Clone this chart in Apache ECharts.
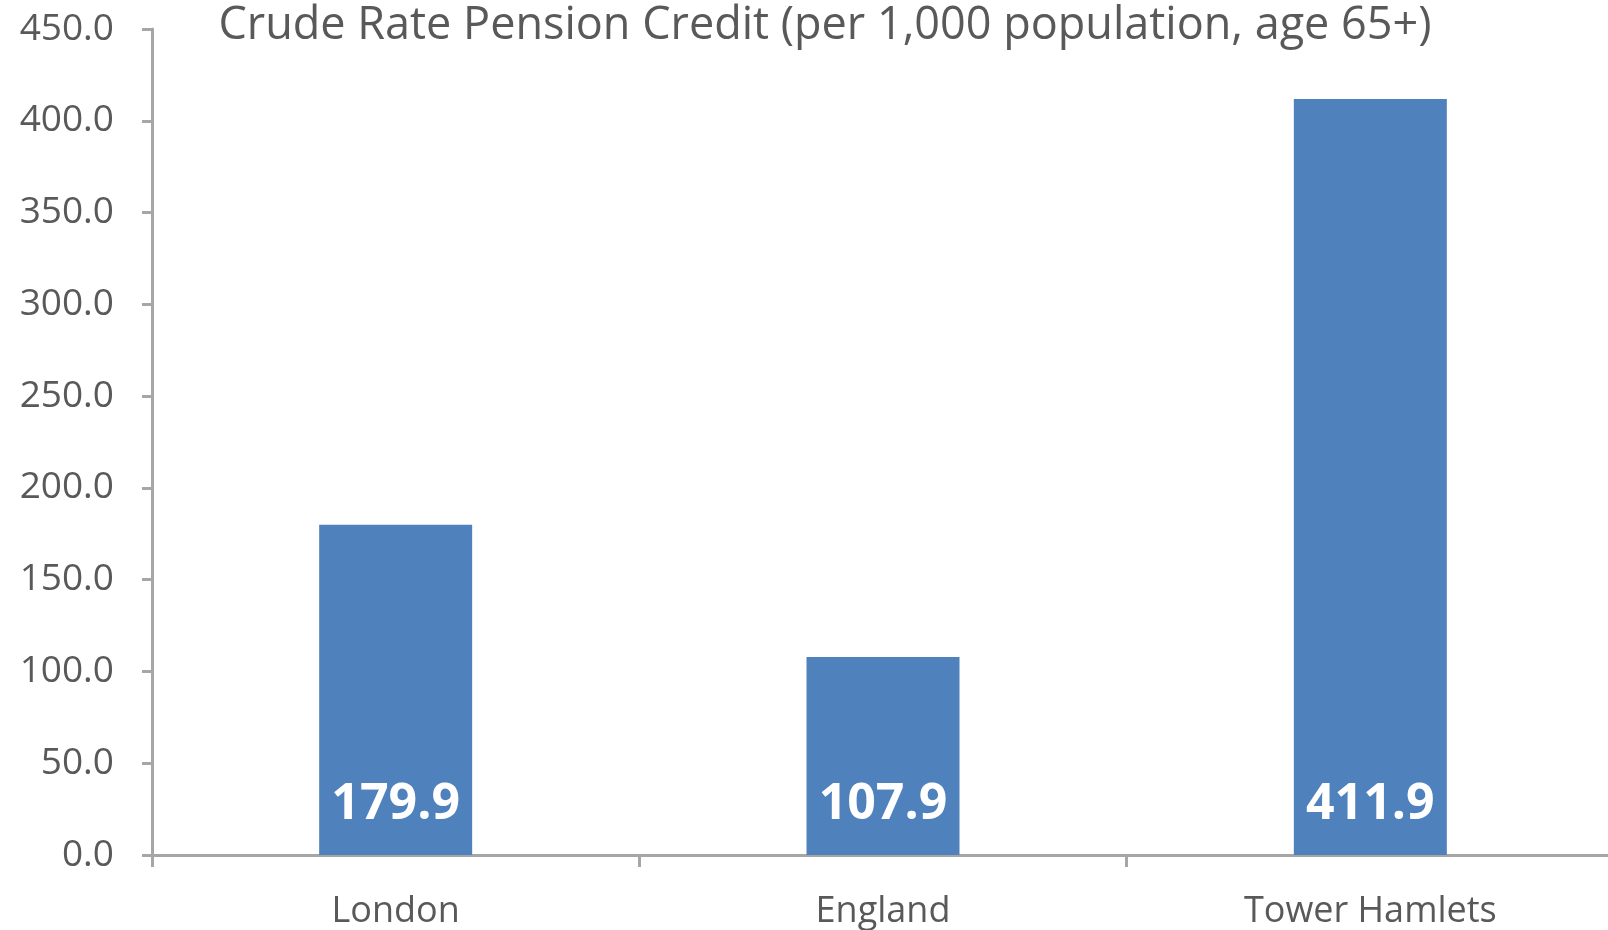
<!DOCTYPE html>
<html>
<head>
<meta charset="utf-8">
<script src="https://cdn.jsdelivr.net/npm/echarts@6/dist/echarts.min.js"></script>
<style>
  html, body { margin: 0; padding: 0; background: #fff; overflow: hidden; }
  #chart { width: 1620px; height: 930px; }
</style>
</head>
<body>
<div id="chart"></div>
<script>
const areas = ["London", "England", "Tower Hamlets"];
const rates = [179.9, 107.9, 411.9];
const yTicks = { min: 0, max: 450, step: 50 };

const chart = echarts.init(document.querySelector("#chart"));
const font = "Open Sans";

chart.setOption({
  animation: false,
  title: {
    text: "Crude Rate Pension Credit (per 1,000 population, age 65+)",
    left: 820,
    top: -1,
    textAlign: "center",
    textStyle: { fontFamily: font, fontSize: 45, fontWeight: "normal", color: "#595959" },
  },
  grid: { left: 152, width: 1462, top: 29, bottom: 74 },
  xAxis: {
    type: "category",
    data: areas,
    axisLine: { lineStyle: { color: "#a6a6a6", width: 3 } },
    axisTick: { show: true, length: 12, lineStyle: { color: "#a6a6a6", width: 3 } },
    axisLabel: { margin: 39, fontFamily: font, fontSize: 36, color: "#595959" },
  },
  yAxis: {
    type: "value",
    min: yTicks.min,
    max: yTicks.max,
    interval: yTicks.step,
    splitLine: { show: false },
    axisLine: { show: true, lineStyle: { color: "#a6a6a6", width: 3 } },
    axisTick: { show: true, length: 10, lineStyle: { color: "#a6a6a6", width: 3 } },
    axisLabel: {
      margin: 38,
      fontFamily: font,
      fontSize: 37,
      color: "#595959",
      formatter: (v) => v.toFixed(1),
    },
  },
  series: [
    {
      type: "bar",
      data: rates,
      barWidth: 153,
      itemStyle: { color: "#4f81bd" },
      label: {
        show: true,
        position: "insideBottom",
        distance: 25,
        fontFamily: font,
        fontSize: 50,
        fontWeight: "bold",
        color: "#ffffff",
        formatter: (p) => p.value.toFixed(1),
      },
    },
  ],
});
</script>
</body>
</html>
